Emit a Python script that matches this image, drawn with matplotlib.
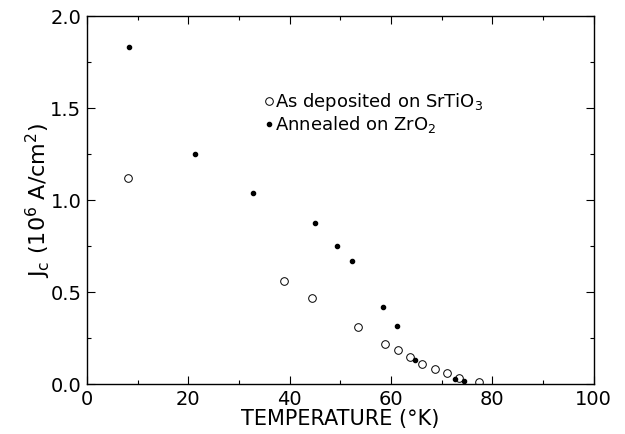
import matplotlib
matplotlib.use('Agg')
import matplotlib.pyplot as plt
from matplotlib.ticker import MultipleLocator, FormatStrFormatter

# dados
temp_dep = [8.2, 38.9, 44.5, 53.4, 58.8, 61.3, 63.7, 66.2, 68.6, 71.0, 73.4, 77.3]
jc_dep = [1.12, 0.56, 0.47, 0.31, 0.22, 0.185, 0.147, 0.109, 0.080, 0.058, 0.034, 0.013]

temp_ann = [8.35, 21.4, 32.7, 45.1, 49.4, 52.3, 58.5, 61.1, 64.8, 72.6, 74.4]
jc_ann = [1.83, 1.25, 1.04, 0.875, 0.748, 0.667, 0.417, 0.317, 0.132, 0.029, 0.016]

plt.rcParams['mathtext.default'] = 'regular'
plt.rcParams['font.family'] = 'DejaVu Sans'

fig = plt.figure(figsize=(6.25, 4.34), dpi=100)
ax = fig.add_axes([0.139, 0.115, 0.811, 0.848])

ax.plot(temp_dep, jc_dep, 'o', mfc='none', mec='black', mew=0.7, ms=5.5,
        label='As deposited on SrTiO$_3$')
ax.plot(temp_ann, jc_ann, 'o', mfc='black', mec='black', ms=3,
        label='Annealed on ZrO$_2$')

ax.set_xlim(0, 100)
ax.set_ylim(0, 2.0)
ax.xaxis.set_major_locator(MultipleLocator(20))
ax.xaxis.set_minor_locator(MultipleLocator(10))
ax.yaxis.set_major_locator(MultipleLocator(0.5))
ax.yaxis.set_minor_locator(MultipleLocator(0.25))
ax.yaxis.set_major_formatter(FormatStrFormatter('%.1f'))

ax.tick_params(which='both', direction='in', top=True, right=True, width=0.8)
ax.tick_params(which='major', length=6, labelsize=14, pad=4)
ax.tick_params(which='minor', length=3)
for s in ax.spines.values():
    s.set_linewidth(1.0)

ax.set_xlabel('TEMPERATURE (°K)', fontsize=15, labelpad=0)
ax.set_ylabel('J$_c$ (10$^6$ A/cm$^2$)', fontsize=16, labelpad=-2)

ax.legend(loc='upper left', bbox_to_anchor=(0.337, 0.82), frameon=False,
          fontsize=13, handlelength=0.3, handletextpad=0.15,
          borderpad=0, labelspacing=0.05)

fig.savefig('out.png', dpi=100)
